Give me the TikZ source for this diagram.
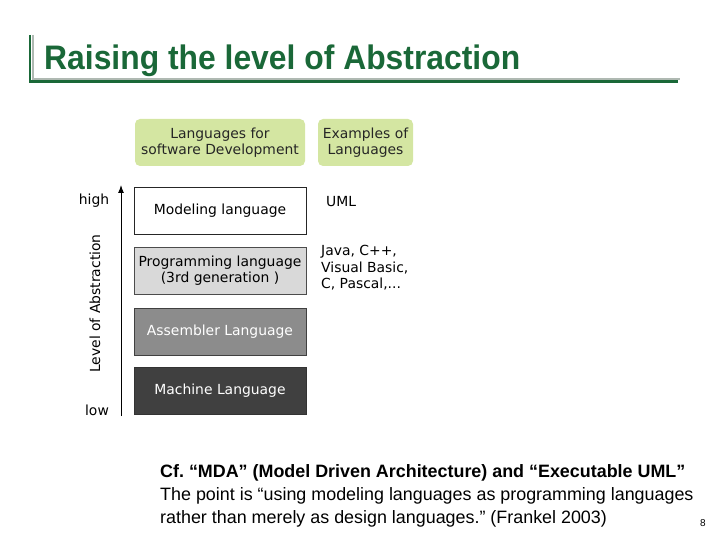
\documentclass[tikz,border=0pt]{standalone}
\usepackage{fontspec}
\setmainfont{Liberation Sans}
\newfontfamily\vfont{DejaVu Sans}
\usetikzlibrary{arrows.meta}
\definecolor{titlegreen}{RGB}{26,104,56}
\definecolor{hdrgreen}{RGB}{212,230,162}
\definecolor{proggray}{RGB}{217,217,217}
\definecolor{asmgray}{RGB}{140,140,140}
\definecolor{machgray}{RGB}{64,64,64}
\definecolor{shadowgray}{RGB}{175,185,178}
\newcommand{\diagfont}{\vfont\fontsize{13.9}{16.5}\selectfont}
\frenchspacing
\tikzset{
  hdr/.style={fill=hdrgreen, rounded corners=5pt, inner sep=0pt, align=center, font=\diagfont, text=black!85},
  lvl/.style={draw=black!85, line width=0.9pt, minimum width=172pt, minimum height=47pt, inner sep=0pt, align=center, font=\diagfont},
  ex/.style={anchor=north west, inner sep=0pt, align=left, font=\diagfont},
  body/.style={anchor=base west, inner sep=0pt, font=\fontsize{17.9}{21}\selectfont}
}
\begin{document}
\begin{tikzpicture}[x=1pt,y=-1pt]
\useasboundingbox (0,0) rectangle (720,540);
% title frame
\draw[shadowgray, line width=2pt] (32.5,35) -- (32.5,79) -- (680,79);
\draw[titlegreen, line width=2.5pt] (30,35) -- (30,81.5) -- (678,81.5);
\node[anchor=base west, inner sep=0pt, text=titlegreen, font=\bfseries\fontsize{34}{40}\selectfont] (title) at (44,70) {\resizebox{476pt}{\height}{Raising the level of Abstraction}};
% header boxes
\node[hdr, minimum width=170pt, minimum height=47pt] (h1) at (220,142.5) {Languages for\\software Development};
\node[hdr, minimum width=95pt, minimum height=47pt] (h2) at (365.5,142.5) {Examples of\\Languages};
% level boxes
\node[lvl, fill=white] (model) at (220,210.5) {Modeling language};
\node[lvl, fill=proggray, draw=black!70] (prog) at (220,270.5) {Programming language\\(3rd generation )};
\node[lvl, fill=asmgray, draw=black!75, text=white] (asm) at (220,331.5) {Assembler Language};
\node[lvl, fill=machgray, draw=black!80, text=white] (mach) at (220,391) {Machine Language};
% examples
\node[ex] (uml) at (326,196) {UML};
\node[ex] (java) at (321,245) {Java, C++,\\Visual Basic,\\C, Pascal,...};
% axis
\coordinate (alow) at (121,416);
\coordinate (ahigh) at (121,185);
\draw[line width=1pt, -{Latex[length=8pt,width=6pt]}] (alow) -- (ahigh);
\node[font=\diagfont, inner sep=0pt] (high) at (94,201) {high};
\node[font=\diagfont, inner sep=0pt] (low) at (97,410) {low};
\node[font=\diagfont, inner sep=0pt, rotate=90] (axlbl) at (95,303.5) {Level of Abstraction};
% body text
\node[body, font=\bfseries\fontsize{17.9}{21}\selectfont] (l1) at (160,477) {Cf. “MDA” (Model Driven Architecture) and “Executable UML”};
\node[body] (l2) at (160,500) {The point is “using modeling languages as programming languages};
\node[body] (l3) at (160,523) {rather than merely as design languages.” (Frankel 2003)};
\node[inner sep=0pt, font=\fontsize{10}{12}\selectfont] (pg) at (703,523) {8};
\end{tikzpicture}
\end{document}
